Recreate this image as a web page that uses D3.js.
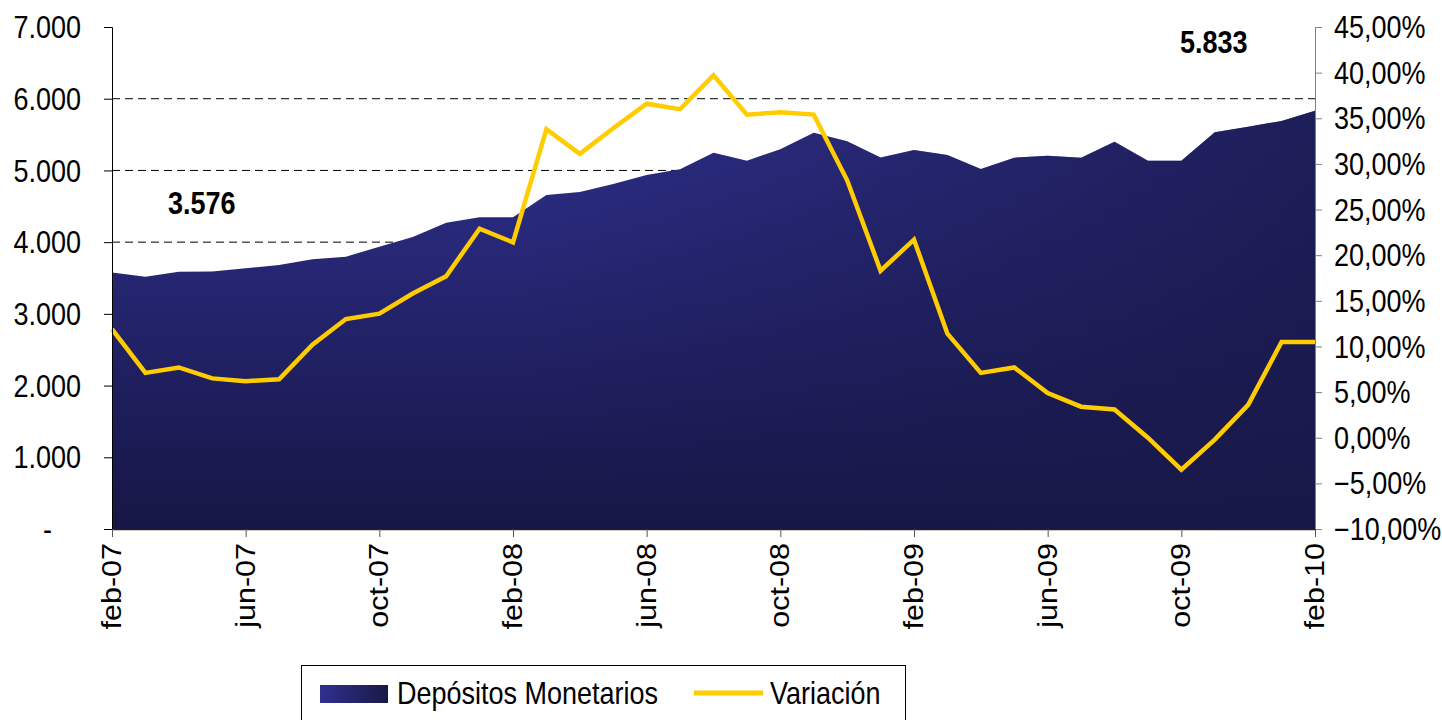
<!DOCTYPE html>
<html>
<head>
<meta charset="utf-8">
<script src="https://cdnjs.cloudflare.com/ajax/libs/d3/7.8.5/d3.min.js"></script>
<style>
  body { margin: 0; background: #fff; }
  svg { display: block; }
  text { font-family: "Liberation Sans", Arial, sans-serif; fill: #000; }
</style>
</head>
<body>
<svg id="chart" width="1442" height="720"></svg>
<script>
var months = ["feb-07","mar-07","abr-07","may-07","jun-07","jul-07","ago-07","sep-07","oct-07","nov-07","dic-07","ene-08",
              "feb-08","mar-08","abr-08","may-08","jun-08","jul-08","ago-08","sep-08","oct-08","nov-08","dic-08","ene-09",
              "feb-09","mar-09","abr-09","may-09","jun-09","jul-09","ago-09","sep-09","oct-09","nov-09","dic-09","ene-10",
              "feb-10"];
var depositos = [3576, 3519, 3588, 3590, 3635, 3681, 3761, 3797, 3937, 4072, 4272, 4346,
                 4346, 4658, 4700, 4811, 4937, 5016, 5248, 5136, 5295, 5527, 5406, 5180,
                 5285, 5216, 5020, 5178, 5206, 5178, 5401, 5136, 5136, 5532, 5610, 5690,
                 5833];
var variacion = [11.9, 7.1, 7.7, 6.5, 6.2, 6.4, 10.2, 13.0, 13.6, 15.8, 17.7, 22.9,
                 21.4, 33.8, 31.1, 33.9, 36.6, 36.0, 39.7, 35.4, 35.65, 35.4, 28.2, 18.3,
                 21.7, 11.4, 7.1, 7.7, 4.9, 3.4, 3.1, 0.0, -3.5, -0.2, 3.6, 10.5,
                 10.5];
var leftTicks = [0, 1000, 2000, 3000, 4000, 5000, 6000, 7000];
var rightTicks = [-10, -5, 0, 5, 10, 15, 20, 25, 30, 35, 40, 45];
var xTicks = ["feb-07","jun-07","oct-07","feb-08","jun-08","oct-08","feb-09","jun-09","oct-09","feb-10"];
var gridTicks = [1000, 2000, 3000, 4000, 5000, 6000];
var seriesNames = ["Depósitos Monetarios", "Variación"];

var plotLeft = 112, plotRight = 1315, plotTop = 27, plotBottom = 529;
var stretch = 1.13;

var es = d3.formatLocale({decimal: ",", thousands: ".", grouping: [3], currency: ["", ""]});
var fmtLeft = function(d) { return d === 0 ? "-" : es.format(",")(d); };
var fmtRight = function(d) { return es.format(",.2f")(d) + "%"; };

var svg = d3.select("#chart");
var defs = svg.append("defs");

var vgrad = defs.append("linearGradient").attr("id", "vgrad")
    .attr("gradientUnits", "userSpaceOnUse")
    .attr("x1", 0).attr("y1", 140).attr("x2", 0).attr("y2", plotBottom);
vgrad.append("stop").attr("offset", 0).attr("stop-color", "#2e2e89");
vgrad.append("stop").attr("offset", 0.45).attr("stop-color", "#23236b");
vgrad.append("stop").attr("offset", 1).attr("stop-color", "#161645");

var hgrad = defs.append("linearGradient").attr("id", "hgrad")
    .attr("gradientUnits", "userSpaceOnUse")
    .attr("x1", 520).attr("y1", 0).attr("x2", plotRight).attr("y2", 0);
hgrad.append("stop").attr("offset", 0).attr("stop-color", "#181848").attr("stop-opacity", 0);
hgrad.append("stop").attr("offset", 1).attr("stop-color", "#181848").attr("stop-opacity", 0.75);

var lgrad = defs.append("linearGradient").attr("id", "lgrad");
lgrad.append("stop").attr("offset", 0).attr("stop-color", "#30308f");
lgrad.append("stop").attr("offset", 1).attr("stop-color", "#191948");

var x = d3.scalePoint().domain(months).range([plotLeft, plotRight]);
var y = d3.scaleLinear().domain([0, 7000]).range([plotBottom, plotTop]);
var y2 = d3.scaleLinear().domain([-10, 45]).range([plotBottom, plotTop]);

// gridlines (behind the area)
svg.append("g").selectAll("line")
    .data(gridTicks)
    .enter().append("line")
    .attr("x1", plotLeft).attr("x2", plotRight)
    .attr("y1", d => y(d)).attr("y2", d => y(d))
    .attr("stroke", "#000")
    .attr("stroke-width", 1)
    .attr("stroke-dasharray", "8,5");

var area = d3.area()
    .x((d, i) => x(months[i]))
    .y0(y(0))
    .y1(d => y(d));

svg.append("path").datum(depositos).attr("d", area).attr("fill", "url(#vgrad)");
svg.append("path").datum(depositos).attr("d", area).attr("fill", "url(#hgrad)");

var line = d3.line()
    .x((d, i) => x(months[i]))
    .y(d => y2(d));

svg.append("path").datum(variacion)
    .attr("d", line)
    .attr("fill", "none")
    .attr("stroke", "#ffcc00")
    .attr("stroke-width", 4.5)
    .attr("stroke-linejoin", "miter");

function stretchText(sel) {
    sel.each(function() {
        var t = d3.select(this);
        var tx = +t.attr("x") || 0, ty = +t.attr("y") || 0;
        t.attr("x", 0).attr("y", 0)
         .attr("transform", "translate(" + tx + "," + ty + ") scale(1," + stretch + ")");
    });
}

// left axis
var gl = svg.append("g").attr("transform", `translate(${plotLeft},0)`)
    .call(d3.axisLeft(y).tickValues(leftTicks).tickFormat(fmtLeft).tickSize(8).tickPadding(0));
gl.attr("font-family", null).attr("font-size", null);
gl.select(".domain").attr("stroke", "#000");
gl.selectAll(".tick line").attr("stroke", "#000");
gl.selectAll(".tick text")
    .attr("x", d => d === 0 ? -60 : -31).attr("y", 0).attr("dy", null)
    .attr("dominant-baseline", "central")
    .style("font-size", "27px")
    .call(stretchText);

// right axis
var gr = svg.append("g").attr("transform", `translate(${plotRight},0)`)
    .call(d3.axisRight(y2).tickValues(rightTicks).tickFormat(fmtRight).tickSize(7).tickPadding(0));
gr.attr("font-family", null).attr("font-size", null);
gr.select(".domain").attr("stroke", "#808080");
gr.selectAll(".tick line").attr("stroke", "#808080");
gr.selectAll(".tick text")
    .attr("x", 19).attr("y", 0).attr("dy", null)
    .attr("dominant-baseline", "central")
    .style("font-size", "27px")
    .call(stretchText);

// bottom axis
var gb = svg.append("g").attr("transform", `translate(0,${plotBottom})`)
    .call(d3.axisBottom(x).tickValues(xTicks).tickSize(8).tickSizeOuter(0).tickPadding(0));
gb.attr("font-family", null).attr("font-size", null);
gb.select(".domain").attr("stroke", "#222").attr("stroke-width", 1.5);
gb.selectAll(".tick line").attr("stroke", "#555");
gb.selectAll(".tick text")
    .attr("x", 0).attr("y", 0).attr("dy", null)
    .attr("text-anchor", "end")
    .attr("dominant-baseline", "central")
    .style("font-size", "27px")
    .attr("transform", "translate(-1,14) scale(1," + stretch + ") rotate(-90)");

// value labels
svg.append("text")
    .attr("x", 168).attr("y", 203)
    .attr("dominant-baseline", "central")
    .style("font-size", "27px").style("font-weight", "bold")
    .text(es.format(",")(depositos[0]))
    .call(stretchText);
svg.append("text")
    .attr("x", 1180).attr("y", 42)
    .attr("dominant-baseline", "central")
    .style("font-size", "27px").style("font-weight", "bold")
    .text(es.format(",")(depositos[depositos.length - 1]))
    .call(stretchText);

// legend
var lg = svg.append("g");
lg.append("rect")
    .attr("x", 301.5).attr("y", 665.5).attr("width", 604).attr("height", 80)
    .attr("fill", "#fff").attr("stroke", "#000").attr("stroke-width", 1);
lg.append("rect")
    .attr("x", 320).attr("y", 685).attr("width", 68).attr("height", 18)
    .attr("fill", "url(#lgrad)");
lg.append("text")
    .attr("x", 397).attr("y", 693)
    .attr("dominant-baseline", "central")
    .style("font-size", "27px")
    .text(seriesNames[0])
    .call(stretchText);
lg.append("line")
    .attr("x1", 694).attr("x2", 763).attr("y1", 693).attr("y2", 693)
    .attr("stroke", "#ffcc00").attr("stroke-width", 5);
lg.append("text")
    .attr("x", 770).attr("y", 693)
    .attr("dominant-baseline", "central")
    .style("font-size", "27px")
    .text(seriesNames[1])
    .call(stretchText);
</script>
</body>
</html>
